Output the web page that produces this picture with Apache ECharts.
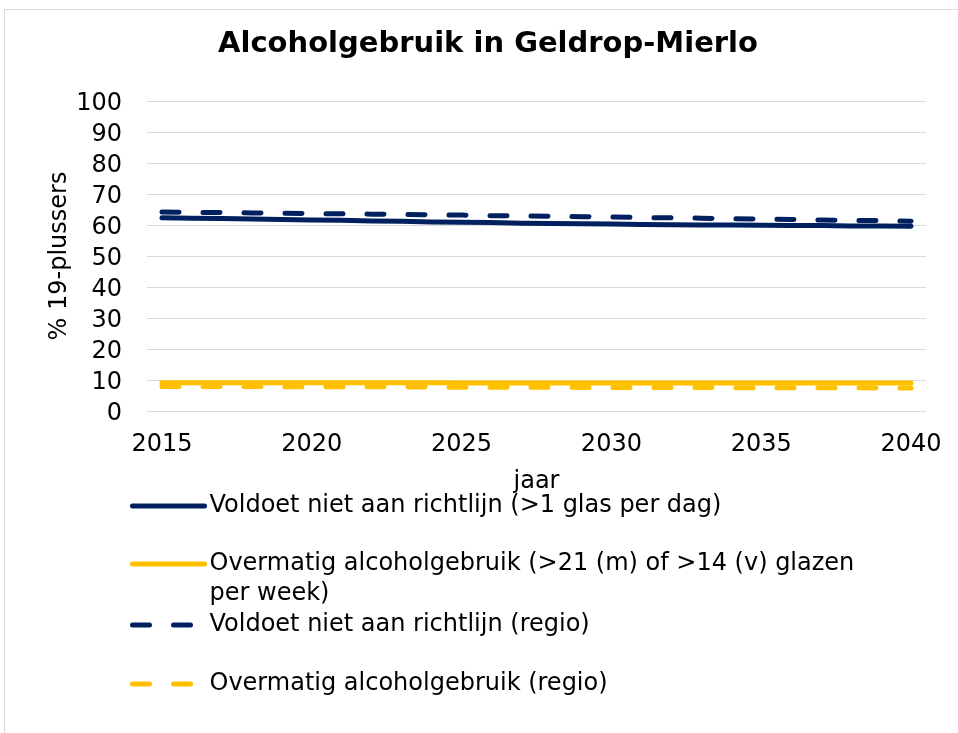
<!DOCTYPE html>
<html>
<head>
<meta charset="utf-8">
<script src="https://cdn.jsdelivr.net/npm/echarts@6/dist/echarts.min.js"></script>
<style>
  html, body { margin: 0; padding: 0; background: #fff; }
  #chart { width: 958px; height: 733px; }
</style>
</head>
<body>
<div id="chart"></div>
<script>
  // jaren op de x-as
  var years = ['2015', '2016', '2017', '2018', '2019', '2020', '2021', '2022', '2023', '2024', '2025', '2026', '2027',
    '2028', '2029', '2030', '2031', '2032', '2033', '2034', '2035', '2036', '2037', '2038', '2039', '2040']

  // Geldrop-Mierlo
  var richtlijn = [62.3, 62.2, 62.1, 61.9, 61.8, 61.6, 61.5, 61.3, 61.2, 61.0, 60.9, 60.8, 60.6,
    60.5, 60.4, 60.3, 60.2, 60.1, 60.0, 60.0, 59.9, 59.8, 59.8, 59.7, 59.7, 59.6]
  var overmatig = [9.1, 9.1, 9.1, 9.1, 9.1, 9.1, 9.1, 9.1, 9.1, 9.1, 9.0, 9.0, 9.0,
    9.0, 9.0, 9.0, 9.0, 9.0, 9.0, 9.0, 9.0, 9.0, 9.0, 9.0, 9.0, 9.0]

  // regio
  var richtlijnRegio = [64.2, 64.1, 64.0, 63.9, 63.8, 63.7, 63.6, 63.5, 63.4, 63.3, 63.2, 63.0, 62.9,
    62.8, 62.7, 62.6, 62.4, 62.3, 62.2, 62.0, 61.9, 61.8, 61.6, 61.5, 61.4, 61.2]
  var overmatigRegio = [7.9, 7.9, 7.9, 7.9, 7.8, 7.8, 7.8, 7.8, 7.8, 7.7, 7.7, 7.7, 7.7,
    7.7, 7.6, 7.6, 7.6, 7.6, 7.6, 7.5, 7.5, 7.5, 7.5, 7.5, 7.4, 7.4]

  var yTicks = [0, 10, 20, 30, 40, 50, 60, 70, 80, 90, 100]

  var names = [
    'Voldoet niet aan richtlijn (>1 glas per dag)',
    'Overmatig alcoholgebruik (>21 (m) of >14 (v) glazen per week)',
    'Voldoet niet aan richtlijn (regio)',
    'Overmatig alcoholgebruik (regio)'
  ]

  var blue = '#002060'
  var yellow = '#FFC000'
  var font = 'DejaVu Sans'
  var dash = [17, 24]

  function makeSeries(name, data, color, dashed) {
    return {
      name: name,
      type: 'line',
      data: data,
      symbol: 'none',
      smooth: false,
      animation: false,
      lineStyle: {
        color: color,
        width: 5,
        type: dashed ? dash : 'solid',
        cap: 'round',
        join: 'round'
      },
      itemStyle: { color: color }
    }
  }

  function makeLegend(name, top, dashed, formatter) {
    var leg = {
      data: [name],
      left: 130,
      top: top,
      orient: 'vertical',
      padding: 0,
      itemWidth: 72,
      itemHeight: 14,
      selectedMode: false,
      itemStyle: { opacity: 0 },
      lineStyle: { width: 5, type: dashed ? dash : 'solid', cap: 'round' },
      textStyle: {
        fontFamily: font,
        fontSize: 24,
        color: '#000',
        lineHeight: 30
      }
    }
    if (formatter) leg.formatter = formatter
    return leg
  }

  var chart = echarts.init(document.getElementById('chart'))
  chart.setOption({
    backgroundColor: '#fff',
    animation: false,
    graphic: [{
      type: 'rect',
      shape: { x: 4.5, y: 9.5, width: 1000, height: 1000 },
      style: { fill: 'none', stroke: '#d9d9d9', lineWidth: 1 },
      silent: true
    }],
    title: {
      text: 'Alcoholgebruik in Geldrop-Mierlo',
      left: 218,
      top: 30,
      padding: 0,
      textStyle: {
        fontFamily: font,
        fontSize: 29,
        fontWeight: 'bold',
        color: '#000'
      }
    },
    legend: [
      makeLegend(names[0], 491, false),
      makeLegend(names[1], 519, false, function() {
        return ' \nOvermatig alcoholgebruik (>21 (m) of >14 (v) glazen\nper week)'
      }),
      makeLegend(names[2], 610, true),
      makeLegend(names[3], 669, true)
    ],
    grid: {
      left: 147,
      right: 32,
      top: 101,
      bottom: 322,
      containLabel: false
    },
    xAxis: {
      type: 'category',
      data: years,
      boundaryGap: true,
      name: 'jaar',
      nameLocation: 'middle',
      nameGap: 59,
      nameTextStyle: { fontFamily: font, fontSize: 24, color: '#000' },
      axisLine: { show: false },
      axisTick: { show: false },
      axisLabel: {
        interval: 4,
        margin: 22,
        fontFamily: font,
        fontSize: 24,
        color: '#000'
      },
      splitLine: { show: false }
    },
    yAxis: {
      type: 'value',
      min: yTicks[0],
      max: yTicks[yTicks.length - 1],
      interval: 10,
      name: '% 19-plussers',
      nameLocation: 'middle',
      nameRotate: 90,
      nameGap: 75,
      nameMoveOverlap: false,
      nameTextStyle: { fontFamily: font, fontSize: 24, color: '#000' },
      axisLine: { show: false },
      axisTick: { show: false },
      axisLabel: {
        margin: 25,
        verticalAlign: 'top',
        lineHeight: 6,
        fontFamily: font,
        fontSize: 24,
        color: '#000'
      },
      splitLine: { lineStyle: { color: '#d9d9d9', width: 1 } }
    },
    series: [
      makeSeries(names[0], richtlijn, blue, false),
      makeSeries(names[1], overmatig, yellow, false),
      makeSeries(names[2], richtlijnRegio, blue, true),
      makeSeries(names[3], overmatigRegio, yellow, true)
    ]
  })
</script>
</body>
</html>
